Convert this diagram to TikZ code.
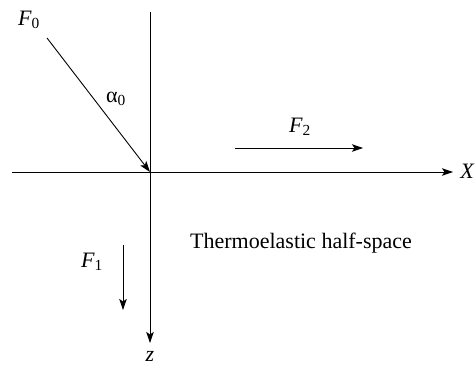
\documentclass[tikz,border=0pt]{standalone}
\usepackage{fontspec}
\setmainfont{Liberation Serif}
\usetikzlibrary{arrows.meta}
\begin{document}
\begin{tikzpicture}[x=1pt,y=-1pt,
  ax/.style={line width=0.9pt,-{Stealth[length=11pt,width=7.5pt,inset=2.5pt]}},
  lbl/.style={font=\fontsize{22}{26}\selectfont,inner sep=0pt}]
\useasboundingbox (0,0) rectangle (475,369);
\coordinate (O) at (150,172);
\coordinate (xl) at (12,172);
\coordinate (xr) at (453,172);
\coordinate (zt) at (150,12);
\coordinate (zb) at (150,343);
\coordinate (f0s) at (47,38);
\coordinate (f2s) at (235,148);
\coordinate (f2e) at (363,148);
\coordinate (f1s) at (123,245);
\coordinate (f1e) at (123,310);
\draw[ax] (xl) -- (xr);
\draw[ax] (zt) -- (zb);
\draw[ax] (f0s) -- (O);
\draw[ax] (f2s) -- (f2e);
\draw[ax] (f1s) -- (f1e);
\node[lbl] (X) at (467,171) {\itshape X};
\node[lbl] (z) at (150,356) {\itshape z};
\node[lbl] (F0) at (29,20) {\itshape F\textsubscript{\upshape 0}};
\node[lbl] (a0) at (116,99) {α\textsubscript{0}};
\node[lbl] (F2) at (300,127) {\itshape F\textsubscript{\upshape 2}};
\node[lbl] (F1) at (92,262) {\itshape F\textsubscript{\upshape 1}};
\node[lbl] (T) at (301,243) {Thermoelastic half-space};
\end{tikzpicture}
\end{document}
